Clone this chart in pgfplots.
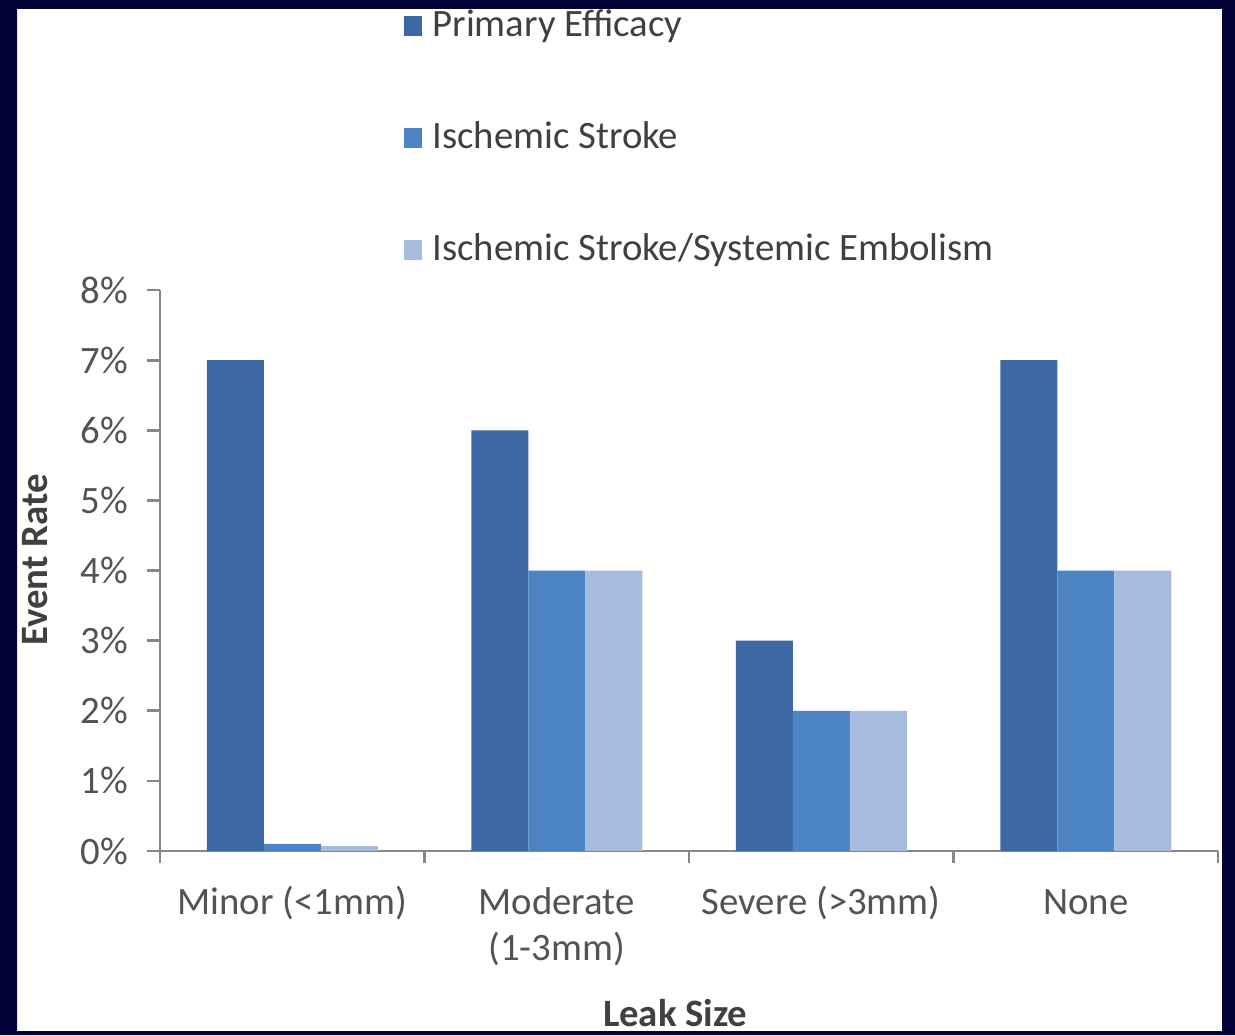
\documentclass[border=0pt]{standalone}
\usepackage{pgfplots}
\pgfplotsset{compat=1.18}
\usepackage{fontspec}
\setmainfont{Carlito}
\definecolor{framebg}{HTML}{03033A}
\definecolor{prim}{HTML}{3C69A3}
\definecolor{isch}{HTML}{4C84C4}
\definecolor{isse}{HTML}{A6BBDD}
\definecolor{txt}{HTML}{404040}
\definecolor{axl}{HTML}{878787}
\newcommand\lblfont{\fontsize{15.5}{18.4}\selectfont}
\begin{document}
\begin{tikzpicture}
\useasboundingbox (0,0) rectangle (494pt,414pt);
% slide background
\fill[framebg] (0,0) rectangle (494pt,414pt);
\fill[white] (6.8pt,1.6pt) rectangle (488.8pt,410.4pt);
\begin{axis}[
  scale only axis,
  width=423.2pt, height=224.4pt,
  at={(64pt,73.6pt)}, anchor=south west,
  xmin=-0.5, xmax=3.5, ymin=0, ymax=8,
  axis x line=bottom, axis y line=left,
  axis line style={-, draw=axl, line width=1.1pt},
  tick style={draw=axl, line width=1.1pt},
  tick align=outside, major tick length=5pt,
  /pgf/number format/assume math mode=true,
  ytick={0,1,...,8},
  yticklabel={\pgfmathprintnumber{\tick}\%},
  yticklabel style={font=\lblfont, text=txt!90, xshift=-4.2pt},
  xtick={-0.5,0.5,1.5,2.5,3.5}, xticklabels={},
  extra x ticks={0,1,2,3},
  extra x tick labels={\strut Minor (<1mm), {\strut Moderate\\\strut (1-3mm)}, \strut Severe (>3mm), \strut None},
  extra x tick style={major tick length=0pt,
    tick label style={font=\lblfont, text=txt!90, align=center, anchor=north, yshift=-9pt}},
  ylabel={Event Rate},
  ylabel style={at={(axis description cs:-0.118,0.519)}, anchor=center, font=\lblfont\bfseries, text=txt},
  xlabel={Leak Size},
  xlabel style={at={(axis description cs:0.487,-0.3137)}, anchor=base, font=\lblfont\bfseries, text=txt},
  ybar=0pt, bar width=22.8pt,
  legend style={at={(axis description cs:0.2297,1.5027)}, anchor=north west,
    draw=none, fill=none, inner sep=0pt, row sep=30.8pt,
    font=\lblfont, text=txt,
    nodes={inner sep=0pt, text height=11pt, text depth=3pt}},
  legend cell align=left,
  legend image code/.code={\fill[#1] (0pt,-4pt) rectangle (7.2pt,4pt);},
]
\addplot[fill=prim, draw=none] coordinates {(0,7) (1,6) (2,3) (3,7)};
\addplot[fill=isch, draw=none] coordinates {(0,0.1) (1,4) (2,2) (3,4)};
\addplot[fill=isse, draw=none] coordinates {(0,0.07) (1,4) (2,2) (3,4)};
\legend{\hspace{4.4pt}Primary Efficacy, \hspace{4.4pt}Ischemic Stroke, \hspace{4.4pt}Ischemic Stroke/Systemic Embolism}
\end{axis}
% frame drawn last so it trims anything running past the white panel
\fill[framebg, even odd rule] (0,0) rectangle (494pt,414pt) (6.8pt,1.6pt) rectangle (488.8pt,410.4pt);
\end{tikzpicture}
\end{document}
